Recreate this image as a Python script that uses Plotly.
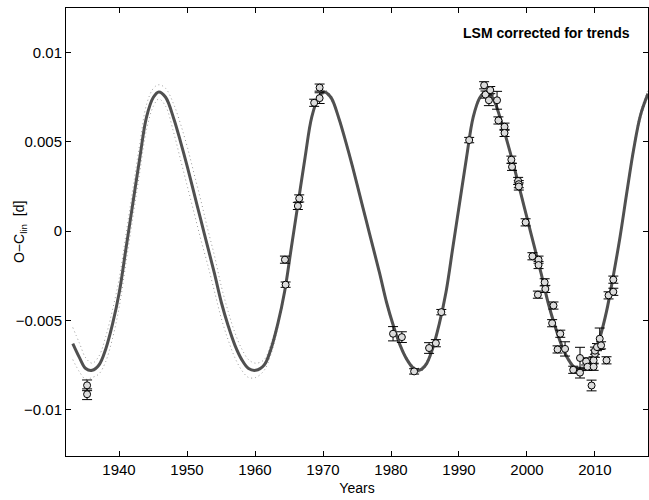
import plotly.graph_objects as go

# ---- model curve nodes ----
curve_years = [
    1933.2, 1934.2, 1935.1, 1936.05,
    1937.05, 1938.05, 1939.05, 1940.05, 1941.05, 1942.05, 1943.05, 1944.05, 1945.05, 1945.85,
    1946.85, 1948.05, 1949.05, 1950.05, 1951.05, 1952.05, 1953.05, 1954.05, 1955.05, 1956.05,
    1957.05, 1958.05, 1959.05, 1960.1,
    1961.35, 1962.35, 1963.35, 1964.35, 1965.35, 1966.35, 1967.35, 1968.35, 1969.35, 1970.15,
    1971.15, 1972.35, 1973.35, 1974.35, 1975.35, 1976.35, 1977.35, 1978.35, 1979.35, 1980.35,
    1981.35, 1982.35, 1983.35, 1984.1,
    1985.1, 1986.1, 1987.1, 1988.1, 1989.1, 1990.1, 1991.1, 1992.1, 1993.1, 1993.9,
    1994.9, 1996.1, 1997.1, 1998.1, 1999.1, 2000.1, 2001.1, 2002.1, 2003.1, 2004.1,
    2005.1, 2006.1, 2007.1, 2007.9,
    2008.7, 2009.7, 2010.7, 2011.7, 2012.7, 2013.7, 2014.7, 2015.7, 2016.7, 2017.8,
]
curve_oc = [
    -0.0063, -0.0071, -0.0077, -0.0078,
    -0.0075, -0.0066, -0.0052, -0.0034, -0.0009, 0.0016, 0.0041, 0.0064, 0.0075, 0.0078,
    0.0075, 0.0063, 0.0050, 0.0036, 0.0021, 0.0006, -0.0009, -0.0024, -0.0040, -0.0053,
    -0.0064, -0.0072, -0.0077, -0.0078,
    -0.0075, -0.0066, -0.0052, -0.0034, -0.0009, 0.0016, 0.0041, 0.0064, 0.0075, 0.0078,
    0.0075, 0.0063, 0.0050, 0.0036, 0.0021, 0.0006, -0.0009, -0.0024, -0.0040, -0.0053,
    -0.0064, -0.0072, -0.0077, -0.0078,
    -0.0075, -0.0066, -0.0052, -0.0034, -0.0009, 0.0016, 0.0041, 0.0064, 0.0075, 0.0078,
    0.0075, 0.0063, 0.0050, 0.0036, 0.0021, 0.0006, -0.0009, -0.0024, -0.0040, -0.0053,
    -0.0064, -0.0072, -0.0077, -0.0078,
    -0.0077, -0.0071, -0.0060, -0.0045, -0.0025, -0.0003, 0.0022, 0.0046, 0.0065, 0.0077,
]
# half-width of dotted confidence band at each node
band_width = [
    0.0009, 0.0008, 0.0006, 0.0004,
    0.0005, 0.0007, 0.0008, 0.0008, 0.0008, 0.0008, 0.0008, 0.0007, 0.0005, 0.0004,
    0.0005, 0.0008, 0.0010, 0.0011, 0.0011, 0.0011, 0.0010, 0.0010, 0.0009, 0.0008,
    0.0007, 0.0006, 0.0005, 0.0004,
    0.0003, 0.0003, 0.0002, 0.00015, 0.00012, 0.00012, 0.00012, 0.00012, 0.00012, 0.00012,
    0.00012, 0.00012, 0.00012, 0.00012, 0.00012, 0.00012, 0.00012, 0.00012, 0.00012, 0.00012,
    0.00012, 0.00012, 0.00012, 0.00012,
    0.00012, 0.00012, 0.00012, 0.00012, 0.00012, 0.00012, 0.00012, 0.00012, 0.00012, 0.00012,
    0.00012, 0.00012, 0.00012, 0.00012, 0.00012, 0.00012, 0.00012, 0.00012, 0.00012, 0.00012,
    0.00012, 0.00012, 0.00012, 0.00012,
    0.00012, 0.00012, 0.00012, 0.00012, 0.00012, 0.00012, 0.00015, 0.0002, 0.0002, 0.0002,
]

# ---- observed minima ----
obs_years = [
    1935.3, 1935.3,
    1964.4, 1964.5, 1966.3, 1966.5, 1968.7, 1969.5, 1969.5,
    1980.3, 1981.6, 1983.4, 1985.6, 1986.6, 1987.4,
    1991.5, 1993.7, 1993.9, 1994.6, 1994.4, 1995.6, 1995.8, 1996.7, 1996.7,
    1997.7, 1997.8, 1998.7, 1998.8, 1998.8, 1999.8, 2000.8, 2001.7, 2001.7,
    2002.6, 2002.7, 2001.6, 2003.9, 2003.7, 2004.9, 2004.5, 2005.6, 2006.8,
    2007.8, 2007.8, 2008.7, 2008.9, 2009.8, 2009.8, 2009.5, 2010.0, 2010.0,
    2010.3, 2010.7, 2010.9, 2011.7, 2012.0, 2012.7, 2012.7,
]
obs_oc = [
    -0.00864, -0.00914,
    -0.0016, -0.0030, 0.00141, 0.00183, 0.00719, 0.00745, 0.00804,
    -0.00575, -0.00594, -0.00786, -0.00655, -0.00628, -0.00454,
    0.0051, 0.00817, 0.00765, 0.0079, 0.00733, 0.00733, 0.0062, 0.00585, 0.0055,
    0.0040, 0.0036, 0.00281, 0.00263, 0.0025, 0.00049, -0.00141, -0.0016, -0.0019,
    -0.00287, -0.00324, -0.00356, -0.00417, -0.00516, -0.00575, -0.00663, -0.0066, -0.00777,
    -0.00711, -0.00793, -0.0073, -0.0076, -0.00724, -0.0076, -0.00865, -0.00687, -0.0067,
    -0.0065, -0.00603, -0.0064, -0.00724, -0.0036, -0.00272, -0.0034,
]
obs_err = [
    0.0003, 0.0003,
    0.0002, 0.00015, 0.0002, 0.0002, 0.0002, 0.0003, 0.0002,
    0.0004, 0.0003, 0.00015, 0.0003, 0.0002, 0.00015,
    0.00015, 0.0002, 0.0002, 0.0002, 0.0003, 0.0005, 0.0002, 0.0002, 0.0002,
    0.0002, 0.0002, 0.0002, 0.0002, 0.0002, 0.0002, 0.0002, 0.0002, 0.0002,
    0.0002, 0.0002, 0.0002, 0.0002, 0.0002, 0.0002, 0.0002, 0.0004, 0.0002,
    0.0006, 0.0003, 0.0002, 0.0002, 0.0002, 0.0002, 0.0003, 0.0002, 0.0002,
    0.0002, 0.0006, 0.0002, 0.0002, 0.0002, 0.0002, 0.0002,
]

x_ticks = [1940, 1950, 1960, 1970, 1980, 1990, 2000, 2010]
y_ticks = [-0.01, -0.005, 0, 0.005, 0.01]
y_ticktext = ["\u22120.01", "\u22120.005", "0", "0.005", "0.01"]

upper = [c + w for c, w in zip(curve_oc, band_width)]
lower = [c - w for c, w in zip(curve_oc, band_width)]

FONT = "Liberation Sans, Arial, Helvetica, sans-serif"

fig = go.Figure()
for band in (upper, lower):
    fig.add_trace(go.Scatter(
        x=curve_years, y=band, mode="lines", line_shape="spline",
        line=dict(color="#9a9a9a", width=1, dash="1px,3px"),
        hoverinfo="skip", showlegend=False,
    ))
fig.add_trace(go.Scatter(
    x=curve_years, y=curve_oc, mode="lines", line_shape="spline",
    line=dict(color="#505050", width=3),
    showlegend=False,
))
fig.add_trace(go.Scatter(
    x=obs_years, y=obs_oc, mode="markers",
    marker=dict(symbol="circle", size=7, color="#dcdcdc",
                line=dict(color="black", width=1)),
    error_y=dict(type="data", array=obs_err, visible=True,
                 color="black", thickness=1, width=5),
    showlegend=False,
))

fig.add_annotation(
    xref="paper", yref="paper", x=0.972, y=0.945,
    xanchor="right", yanchor="middle", showarrow=False,
    text="<b>LSM corrected for trends</b>",
    font=dict(family=FONT, size=14, color="black"),
)
# y-axis title placed as rotated text
fig.add_annotation(
    xref="paper", yref="paper", x=-0.079, y=0.5,
    xanchor="center", yanchor="middle", showarrow=False, textangle=-90,
    text="O\u2212C<sub>lin</sub>  [d]",
    font=dict(family=FONT, size=14, color="black"),
)

axis_common = dict(
    showline=True, linecolor="black", linewidth=1, mirror="ticks",
    ticks="inside", ticklen=5, tickcolor="black", showgrid=False,
    zeroline=False, tickfont=dict(family=FONT, size=15, color="black"),
)
fig.update_xaxes(range=[1932.2, 2017.8], tickvals=x_ticks,
                 title=dict(text="Years", font=dict(family=FONT, size=14, color="black"), standoff=6),
                 **axis_common)
fig.update_yaxes(range=[-0.0126, 0.0125], tickvals=y_ticks, ticktext=y_ticktext,
                 **axis_common)

fig.update_layout(
    width=649, height=500,
    margin=dict(l=66, r=1, t=8, b=44),
    paper_bgcolor="white", plot_bgcolor="white",
    font=dict(family=FONT, color="black"),
)

fig.write_html("out.html")
